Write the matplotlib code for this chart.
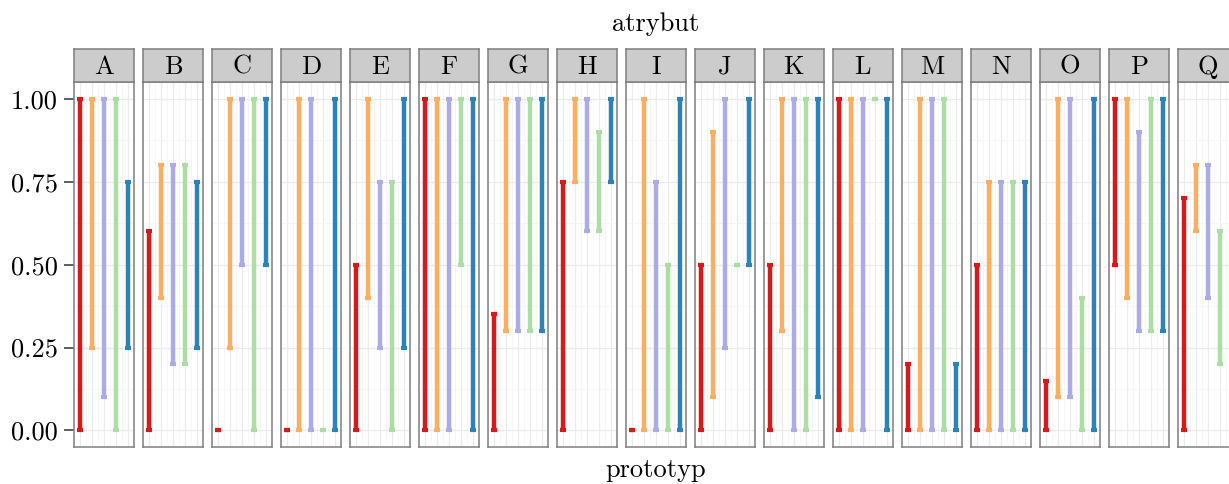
import numpy as np
import matplotlib
matplotlib.use("Agg")
import matplotlib.pyplot as plt

plt.rcParams['font.family'] = ['cmr10', 'DejaVu Serif']
plt.rcParams['axes.formatter.use_mathtext'] = True

# dane: dla kazdego atrybutu przedzial (min, max) dla 5 prototypow
atrybuty = list("ABCDEFGHIJKLMNOPQ")
kolory = ['#D7191C', '#FDAE61', '#ABABE8', '#ABDDA4', '#2B83BA']

ymin = {
    'A': [0.00, 0.25, 0.10, 0.00, 0.25],
    'B': [0.00, 0.40, 0.20, 0.20, 0.25],
    'C': [0.00, 0.25, 0.50, 0.00, 0.50],
    'D': [0.00, 0.00, 0.00, 0.00, 0.00],
    'E': [0.00, 0.40, 0.25, 0.00, 0.25],
    'F': [0.00, 0.00, 0.00, 0.50, 0.00],
    'G': [0.00, 0.30, 0.30, 0.30, 0.30],
    'H': [0.00, 0.75, 0.60, 0.60, 0.75],
    'I': [0.00, 0.00, 0.00, 0.00, 0.00],
    'J': [0.00, 0.10, 0.25, 0.50, 0.50],
    'K': [0.00, 0.30, 0.00, 0.00, 0.10],
    'L': [0.00, 0.00, 0.00, 1.00, 0.00],
    'M': [0.00, 0.00, 0.00, 0.00, 0.00],
    'N': [0.00, 0.00, 0.00, 0.00, 0.00],
    'O': [0.00, 0.10, 0.10, 0.00, 0.00],
    'P': [0.50, 0.40, 0.30, 0.30, 0.30],
    'Q': [0.00, 0.60, 0.40, 0.20, np.nan],
}
ymax = {
    'A': [1.00, 1.00, 1.00, 1.00, 0.75],
    'B': [0.60, 0.80, 0.80, 0.80, 0.75],
    'C': [0.00, 1.00, 1.00, 1.00, 1.00],
    'D': [0.00, 1.00, 1.00, 0.00, 1.00],
    'E': [0.50, 1.00, 0.75, 0.75, 1.00],
    'F': [1.00, 1.00, 1.00, 1.00, 1.00],
    'G': [0.35, 1.00, 1.00, 1.00, 1.00],
    'H': [0.75, 1.00, 1.00, 0.90, 1.00],
    'I': [0.00, 1.00, 0.75, 0.50, 1.00],
    'J': [0.50, 0.90, 1.00, 0.50, 1.00],
    'K': [0.50, 1.00, 1.00, 1.00, 1.00],
    'L': [1.00, 1.00, 1.00, 1.00, 1.00],
    'M': [0.20, 1.00, 1.00, 1.00, 0.20],
    'N': [0.50, 0.75, 0.75, 0.75, 0.75],
    'O': [0.15, 1.00, 1.00, 0.40, 1.00],
    'P': [1.00, 1.00, 0.90, 1.00, 1.00],
    'Q': [0.70, 0.80, 0.80, 0.60, np.nan],
}
yticks = [0.0, 0.25, 0.5, 0.75, 1.0]
ytick_labels = ['0.00', '0.25', '0.50', '0.75', '1.00']

W, H = 1229, 484
fig = plt.figure(figsize=(W / 100, H / 100), dpi=100)

panel_left0 = 74.3
stride = 68.96
panel_w = 60.0
panel_top = 82.3
panel_bot = 447.0
strip_top = 49.3
ramka = '#7F7F7F'
rozmiar = 19

for i, a in enumerate(atrybuty):
    left = panel_left0 + stride * i
    ax = fig.add_axes([left / W, (H - panel_bot) / H, panel_w / W, (panel_bot - panel_top) / H])
    ax.set_xlim(0.55, 5.45)
    ax.set_ylim(-0.05, 1.05)
    ax.set_xticks([1, 2, 3, 4, 5])
    ax.set_xticks([0.5, 1.5, 2.5, 3.5, 4.5, 5.5], minor=True)
    ax.set_yticks(yticks)
    ax.set_yticks([0.125, 0.375, 0.625, 0.875], minor=True)
    ax.grid(which='major', color='#EBEBEB', linewidth=0.9, zorder=0)
    ax.grid(which='minor', color='#F5F5F5', linewidth=0.6, zorder=0)
    ax.set_axisbelow(True)
    for s in ax.spines.values():
        s.set_color(ramka)
        s.set_linewidth(1.1)
    ax.tick_params(axis='x', which='both', length=0, labelbottom=False)
    if i == 0:
        ax.set_yticklabels(ytick_labels, fontsize=rozmiar)
        ax.tick_params(axis='y', which='major', length=7, width=1.1, color='#333333', pad=5)
        ax.tick_params(axis='y', which='minor', length=0)
    else:
        ax.tick_params(axis='y', which='both', length=0, labelleft=False)

    for j in range(5):
        lo, hi = ymin[a][j], ymax[a][j]
        if np.isnan(lo):
            continue
        ax.errorbar([j + 1], [(lo + hi) / 2], yerr=[[(hi - lo) / 2], [(hi - lo) / 2]],
                    fmt='none', ecolor=kolory[j], elinewidth=3.2,
                    capsize=2.5, capthick=3.0, zorder=3)

    # pasek z nazwa atrybutu
    sax = fig.add_axes([left / W, (H - panel_top) / H, panel_w / W, (panel_top - strip_top) / H])
    sax.set_facecolor('#CCCCCC')
    sax.set_xticks([])
    sax.set_yticks([])
    for s in sax.spines.values():
        s.set_color(ramka)
        s.set_linewidth(1.1)
    sax.text(0.5, 0.47, a, ha='center', va='center', fontsize=rozmiar, transform=sax.transAxes)

srodek = (panel_left0 + stride * 16 + panel_w + panel_left0) / 2
fig.text(srodek / W, 1 - 24 / H, 'atrybut', ha='center', va='center', fontsize=rozmiar)
fig.text(srodek / W, 1 - 470 / H, 'prototyp', ha='center', va='center', fontsize=rozmiar)

fig.savefig('out.png', dpi=100)
